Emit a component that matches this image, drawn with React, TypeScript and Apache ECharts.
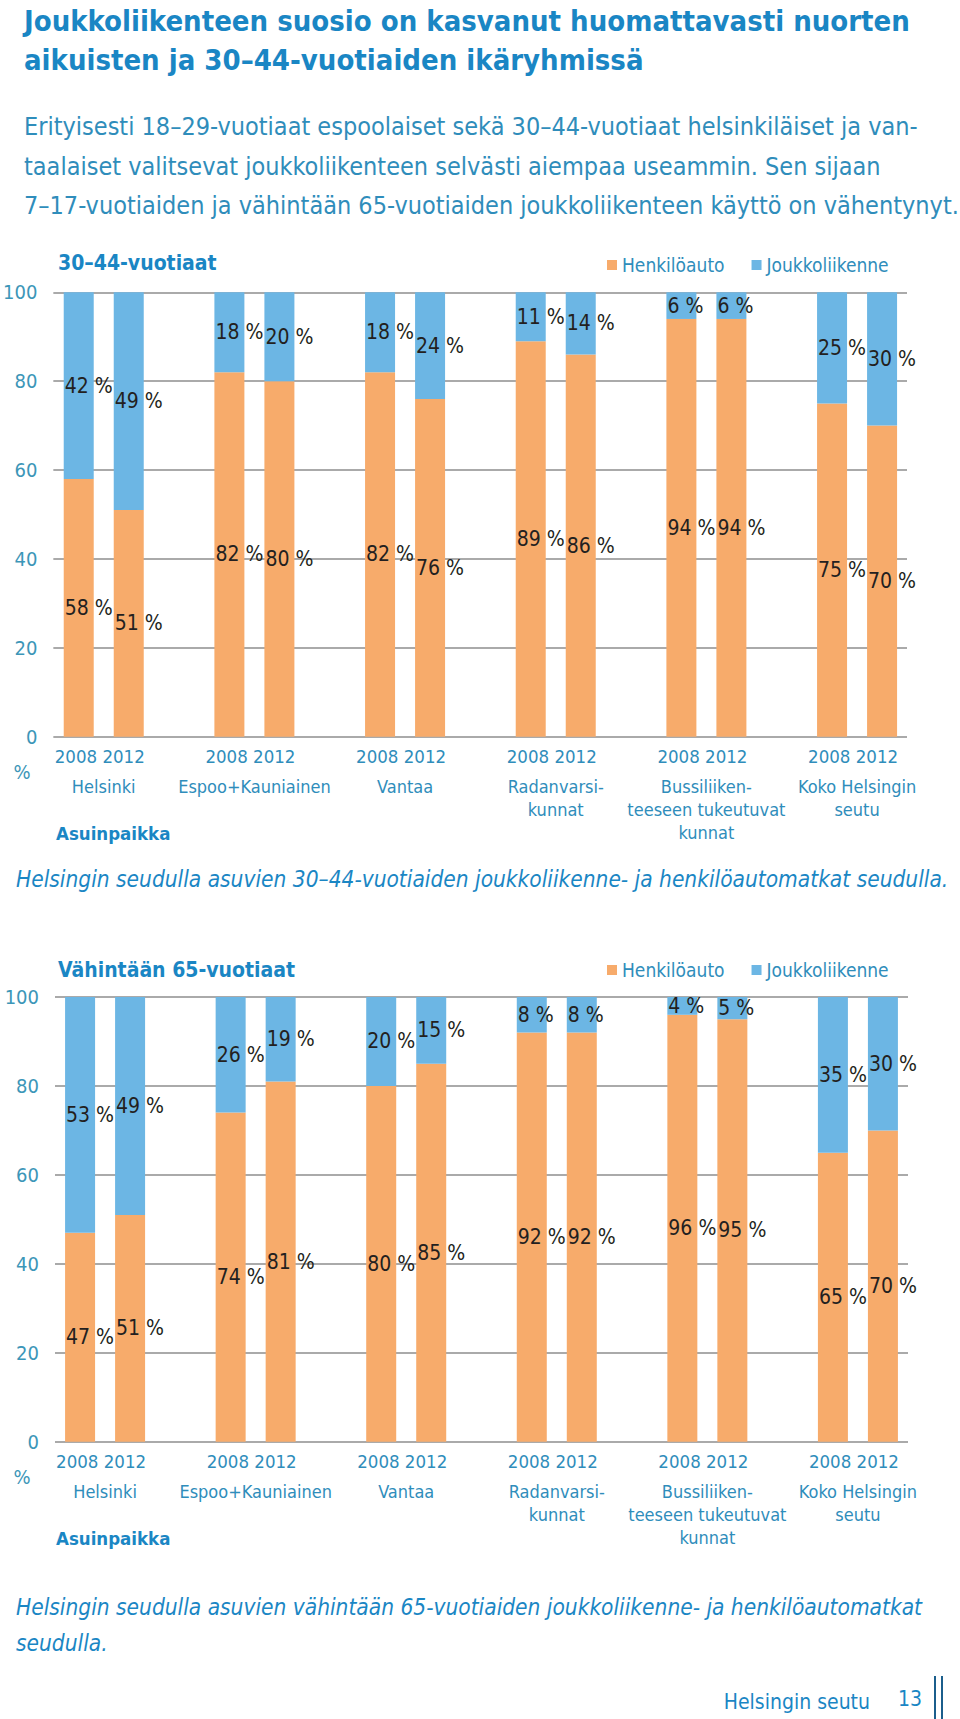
import React, { useEffect, useRef } from "react";
import * as echarts from "echarts";

const groups = [
  "Helsinki",
  "Espoo+Kauniainen",
  "Vantaa",
  "Radanvarsi-\nkunnat",
  "Bussiliiken-\nteeseen tukeutuvat\nkunnat",
  "Koko Helsingin\nseutu",
];
const years = ["2008", "2012"];
const seriesNames = ["Henkilöauto", "Joukkoliikenne"];
const yTicks = [0, 20, 40, 60, 80, 100];

// 30–44-vuotiaat
const car30_2008 = [58, 82, 82, 89, 94, 75];
const pt30_2008 = [42, 18, 18, 11, 6, 25];
const car30_2012 = [51, 80, 76, 86, 94, 70];
const pt30_2012 = [49, 20, 24, 14, 6, 30];
// Vähintään 65-vuotiaat
const car65_2008 = [47, 74, 80, 92, 96, 65];
const pt65_2008 = [53, 26, 20, 8, 4, 35];
const car65_2012 = [51, 81, 85, 92, 95, 70];
const pt65_2012 = [49, 19, 15, 8, 5, 30];

const F = '"Liberation Sans Narrow", "DejaVu Sans Condensed", "Roboto Condensed", Roboto, sans-serif';
const ORANGE = "#F7AB6B";
const BLUE = "#6CB6E4";
const TEAL = "#2F8DBB";
const TITLE = "#1A86C4";
const DARK = "#231F20";
const GRIDC = "#8E8E8E";
const AXC = "#3C96B8";

function barSeries(name: string, data: number[], stack: string, color: string, axisIdx: number) {
  return {
    type: "bar",
    name,
    data,
    stack,
    xAxisIndex: axisIdx,
    yAxisIndex: axisIdx,
    barWidth: 30,
    barGap: "66.7%",
    itemStyle: { color },
    label: {
      show: true,
      position: "insideLeft",
      distance: 1,
      formatter: "{c} %",
      color: DARK,
      fontFamily: F,
      fontSize: 21,
    },
    emphasis: { disabled: true },
  };
}

function catAxis(gridIndex: number) {
  return {
    type: "category",
    gridIndex,
    data: groups,
    axisLine: { show: false },
    axisTick: { show: false },
    axisLabel: {
      interval: 0,
      margin: 2,
      formatter: (v: string) => `{y|${years.join(" ")}}\n{n|${v}}`,
      rich: {
        y: { fontFamily: F, fontSize: 18.5, color: TEAL, lineHeight: 36, padding: [0, 8, 0, 0] },
        n: { fontFamily: F, fontSize: 18, color: TEAL, lineHeight: 23 },
      },
    },
  };
}

function hiddenX(gridIndex: number) {
  return { type: "value", gridIndex, min: 0, max: 1, show: false };
}

function hiddenY(gridIndex: number) {
  return { type: "value", gridIndex, min: 0, max: 100, interval: 20, show: false };
}

function gridY(gridIndex: number) {
  return {
    type: "value",
    gridIndex,
    min: yTicks[0],
    max: yTicks[yTicks.length - 1],
    interval: 20,
    axisLine: { show: false },
    axisTick: { show: false },
    splitLine: { show: true, lineStyle: { color: GRIDC, width: 1.5 } },
    axisLabel: { margin: 16, fontFamily: F, fontSize: 20, color: AXC },
  };
}

function txt(text: string, x: number, y: number, size: number, color: string, extra: any = {}) {
  return {
    type: "text",
    x,
    y,
    silent: true,
    style: {
      text,
      fontFamily: F,
      fontSize: size,
      fill: color,
      verticalAlign: "middle",
      align: "left",
      ...extra,
    },
  };
}

function legend(top: number) {
  return {
    left: 607,
    top,
    padding: 0,
    itemWidth: 10,
    itemHeight: 10,
    itemGap: 27,
    icon: "rect",
    data: seriesNames,
    selectedMode: false,
    textStyle: { fontFamily: F, fontSize: 19, color: TEAL, lineHeight: 22 },
  };
}

export default function App() {
  const ref = useRef<HTMLDivElement>(null);
  useEffect(() => {
    document.body.style.margin = "0";
    if (!ref.current) return;
    const chart = echarts.init(ref.current, undefined, { renderer: "svg" });
    const option: any = {
      animation: false,
      backgroundColor: "#ffffff",
      grid: [
        { left: 28.4, width: 904, top: 292.3, height: 444.4 },
        { left: 53, width: 854, top: 292.3, height: 444.4 },
        { left: 29.8, width: 903.4, top: 997, height: 444.7 },
        { left: 55, width: 853, top: 997, height: 444.7 },
      ],
      xAxis: [catAxis(0), hiddenX(1), catAxis(2), hiddenX(3)],
      yAxis: [hiddenY(0), gridY(1), hiddenY(2), gridY(3)],
      legend: [legend(254), legend(959)],
      series: [
        barSeries(seriesNames[0], car30_2008, "a2008", ORANGE, 0),
        barSeries(seriesNames[1], pt30_2008, "a2008", BLUE, 0),
        barSeries(seriesNames[0], car30_2012, "a2012", ORANGE, 0),
        barSeries(seriesNames[1], pt30_2012, "a2012", BLUE, 0),
        barSeries(seriesNames[0], car65_2008, "b2008", ORANGE, 2),
        barSeries(seriesNames[1], pt65_2008, "b2008", BLUE, 2),
        barSeries(seriesNames[0], car65_2012, "b2012", ORANGE, 2),
        barSeries(seriesNames[1], pt65_2012, "b2012", BLUE, 2),
      ],
      graphic: [
        txt("Joukkoliikenteen suosio on kasvanut huomattavasti nuorten", 24, 21, 29, TITLE, { fontWeight: "bold" }),
        txt("aikuisten ja 30–44-vuotiaiden ikäryhmissä", 24, 60, 29, TITLE, { fontWeight: "bold" }),
        txt("Erityisesti 18–29-vuotiaat espoolaiset sekä 30–44-vuotiaat helsinkiläiset ja van-", 24, 126, 25, TEAL),
        txt("taalaiset valitsevat joukkoliikenteen selvästi aiempaa useammin. Sen sijaan", 24, 166, 25, TEAL),
        txt("7–17-vuotiaiden ja vähintään 65-vuotiaiden joukkoliikenteen käyttö on vähentynyt.", 24, 205, 25, TEAL),
        txt("30–44-vuotiaat", 58, 263, 21, TITLE, { fontWeight: "bold" }),
        txt("%", 22, 772, 20, AXC, { align: "center" }),
        txt("Asuinpaikka", 56, 833, 18.5, TITLE, { fontWeight: "bold" }),
        txt("Helsingin seudulla asuvien 30–44-vuotiaiden joukkoliikenne- ja henkilöautomatkat seudulla.", 16, 879, 22.5, TITLE, { fontStyle: "italic" }),
        txt("Vähintään 65-vuotiaat", 58, 970, 21, TITLE, { fontWeight: "bold" }),
        txt("%", 22, 1477, 20, AXC, { align: "center" }),
        txt("Asuinpaikka", 56, 1538, 18.5, TITLE, { fontWeight: "bold" }),
        txt("Helsingin seudulla asuvien vähintään 65-vuotiaiden joukkoliikenne- ja henkilöautomatkat", 16, 1607, 22.5, TITLE, { fontStyle: "italic" }),
        txt("seudulla.", 16, 1643, 22.5, TITLE, { fontStyle: "italic" }),
        txt("Helsingin seutu", 870, 1702, 21, TITLE, { align: "right" }),
        txt("13", 898, 1699, 21, TITLE),
        { type: "line", silent: true, shape: { x1: 935, y1: 1676, x2: 935, y2: 1719 }, style: { stroke: "#1B5E8C", lineWidth: 2 } },
        { type: "line", silent: true, shape: { x1: 942, y1: 1676, x2: 942, y2: 1719 }, style: { stroke: "#1B5E8C", lineWidth: 2 } },
      ],
    };
    chart.setOption(option);
    return () => chart.dispose();
  }, []);
  return <div ref={ref} style={{ width: 960, height: 1719 }} />;
}
